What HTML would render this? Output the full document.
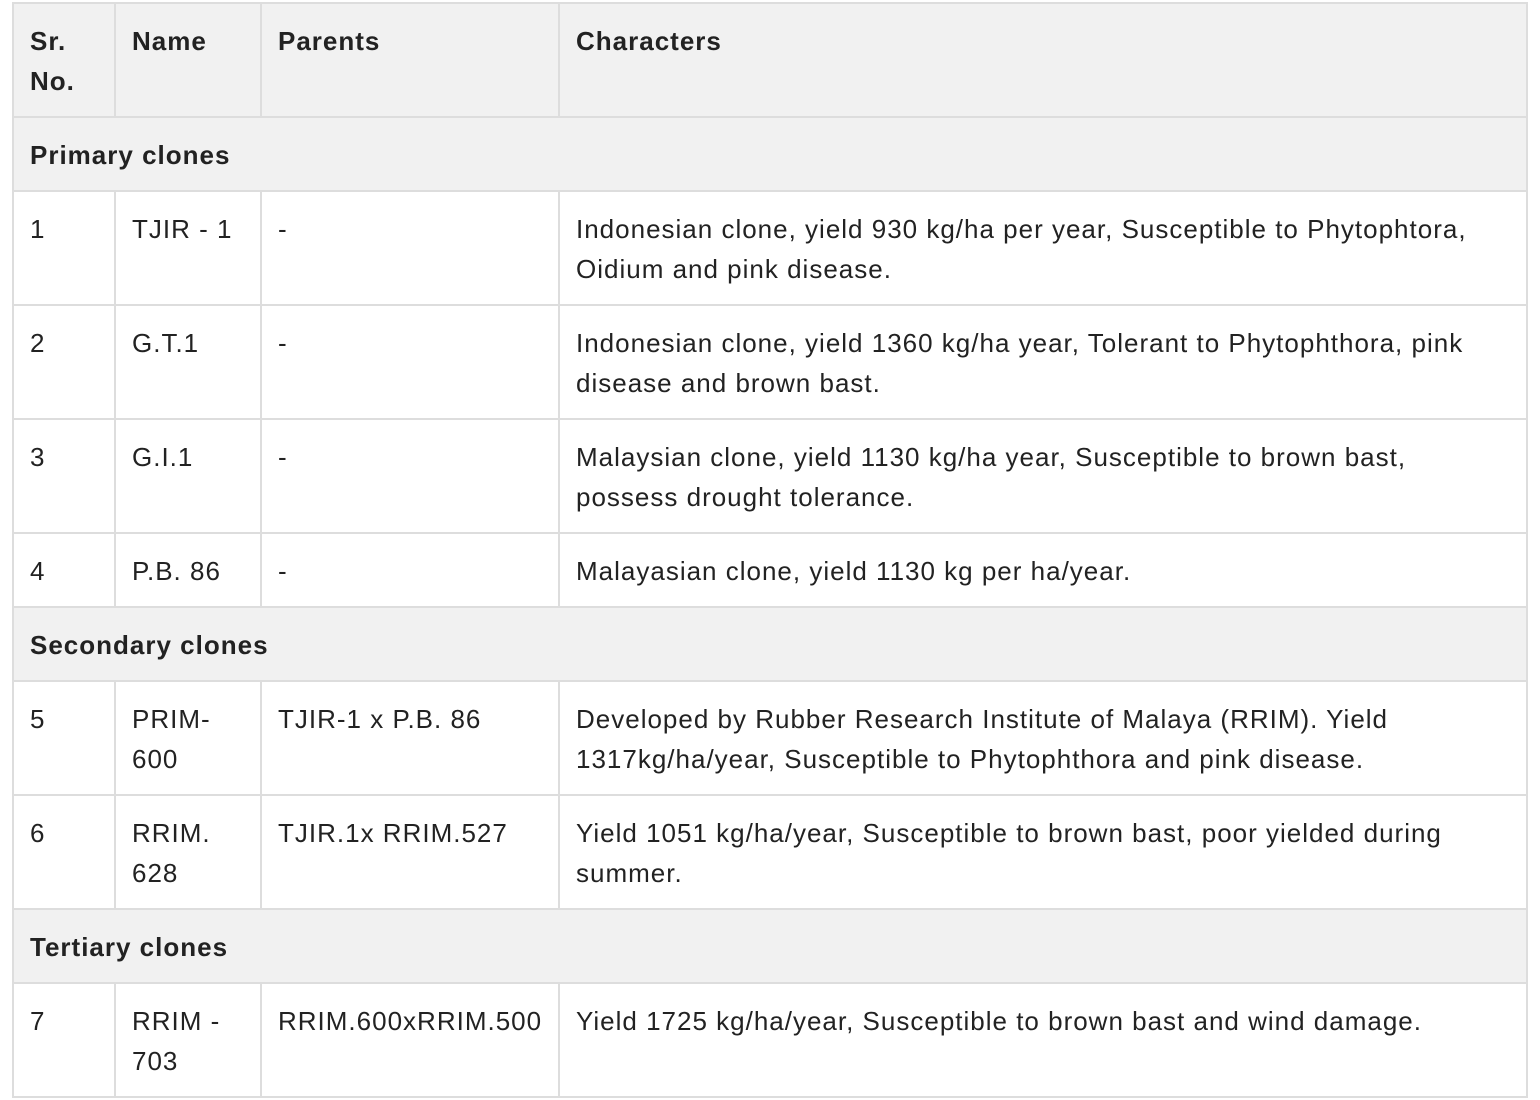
<!DOCTYPE html>
<html><head><meta charset="utf-8"><style>
body{margin:0;background:#fff;width:1540px;height:1100px;overflow:hidden}
table{position:absolute;left:12px;top:2px;border-collapse:collapse;table-layout:fixed;font-family:"Liberation Sans",Arial,sans-serif;font-size:26px;line-height:40px;color:#222;letter-spacing:1px}
td,th{border:2px solid #ddd;padding:17px 12px 0 16px;vertical-align:top;text-align:left;box-sizing:border-box}
th{background:#f1f1f1;font-weight:bold}
tr.sec td{background:#f1f1f1;font-weight:bold}
tr.h114{height:114px}
tr.h74{height:74px}
</style></head><body>
<table>
<colgroup><col style="width:102px"><col style="width:146px"><col style="width:298px"><col style="width:968px"></colgroup>
<tr class="h114"><th>Sr.<br>No.</th><th>Name</th><th>Parents</th><th>Characters</th></tr>
<tr class="h74 sec"><td colspan="4">Primary clones</td></tr>
<tr class="h114"><td>1</td><td>TJIR - 1</td><td>-</td><td>Indonesian clone, yield 930 kg/ha per year, Susceptible to Phytophtora,<br>Oidium and pink disease.</td></tr>
<tr class="h114"><td>2</td><td>G.T.1</td><td>-</td><td>Indonesian clone, yield 1360 kg/ha year, Tolerant to Phytophthora, pink<br>disease and brown bast.</td></tr>
<tr class="h114"><td>3</td><td>G.I.1</td><td>-</td><td>Malaysian clone, yield 1130 kg/ha year, Susceptible to brown bast,<br>possess drought tolerance.</td></tr>
<tr class="h74"><td>4</td><td>P.B. 86</td><td>-</td><td>Malayasian clone, yield 1130 kg per ha/year.</td></tr>
<tr class="h74 sec"><td colspan="4">Secondary clones</td></tr>
<tr class="h114"><td>5</td><td>PRIM-<br>600</td><td>TJIR-1 x P.B. 86</td><td>Developed by Rubber Research Institute of Malaya (RRIM). Yield<br>1317kg/ha/year, Susceptible to Phytophthora and pink disease.</td></tr>
<tr class="h114"><td>6</td><td>RRIM.<br>628</td><td>TJIR.1x RRIM.527</td><td>Yield 1051 kg/ha/year, Susceptible to brown bast, poor yielded during<br>summer.</td></tr>
<tr class="h74 sec"><td colspan="4">Tertiary clones</td></tr>
<tr class="h114"><td>7</td><td>RRIM -<br>703</td><td>RRIM.600xRRIM.500</td><td>Yield 1725 kg/ha/year, Susceptible to brown bast and wind damage.</td></tr>
</table>
</body></html>
